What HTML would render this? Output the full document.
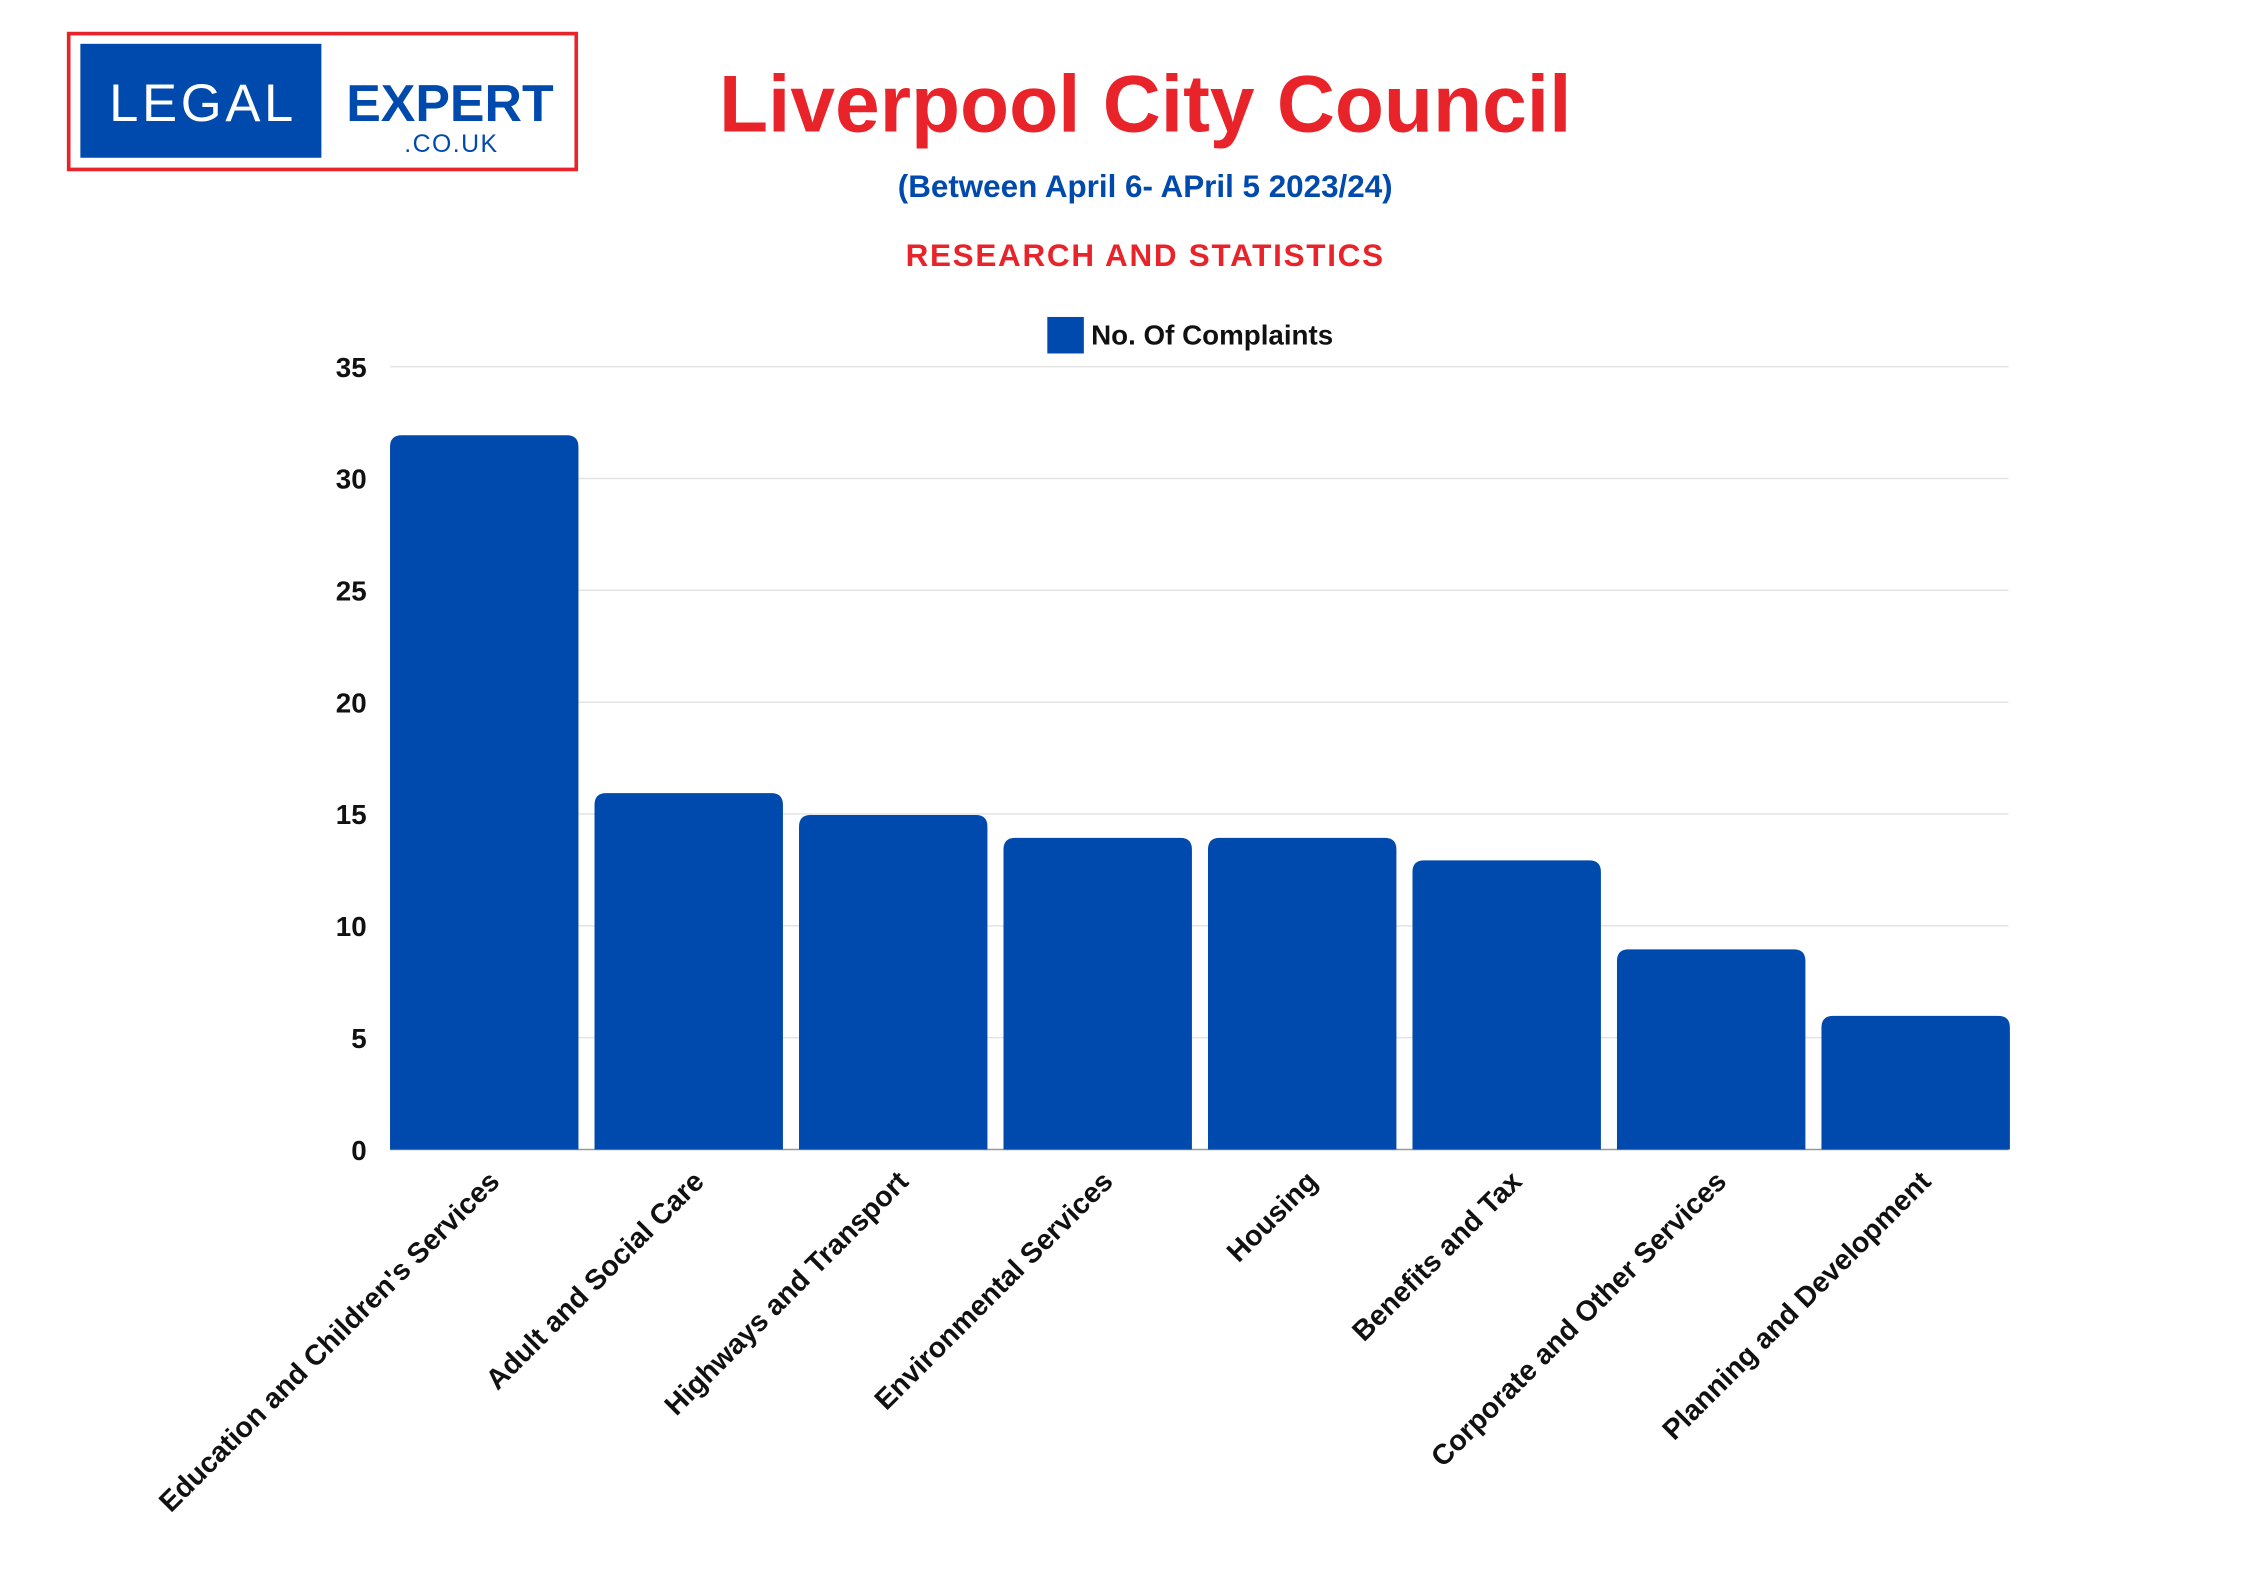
<!DOCTYPE html>
<html><head><meta charset="utf-8"><style>
html,body{margin:0;padding:0;background:#fff;}
svg{display:block;}
</style></head><body>
<svg width="2267" height="1587" viewBox="0 0 1552 1086.5" xmlns="http://www.w3.org/2000/svg" font-family="Liberation Sans, sans-serif">
<rect width="1552" height="1086.5" fill="#fff"/>
<!-- logo -->
<rect x="47" y="23" width="347.5" height="93" fill="#fff" stroke="#e8232a" stroke-width="2.5"/>
<rect x="55" y="30" width="165" height="78" fill="#004aad"/>
<text x="139" y="83" fill="#fff" font-size="36" text-anchor="middle" letter-spacing="2.5">LEGAL</text>
<text x="308" y="83" fill="#004aad" font-size="35.5" font-weight="bold" text-anchor="middle">EXPERT</text>
<text x="309" y="104" fill="#004aad" font-size="17" text-anchor="middle" letter-spacing="1">.CO.UK</text>
<!-- titles -->
<text x="784" y="90" fill="#e8232a" font-size="55" font-weight="bold" text-anchor="middle">Liverpool City Council</text>
<text x="784" y="135" fill="#004aad" font-size="21.5" font-weight="bold" text-anchor="middle">(Between April 6- APril 5 2023/24)</text>
<text x="784" y="182" fill="#e8232a" font-size="21.5" font-weight="bold" text-anchor="middle" letter-spacing="1.2">RESEARCH AND STATISTICS</text>
<!-- legend -->
<rect x="717" y="217" width="25" height="25" fill="#004aad"/>
<text x="747" y="236" fill="#111" font-size="19" font-weight="bold">No. Of Complaints</text>
<!-- grid -->
<g stroke="#e3e3e3" stroke-width="1">
<line x1="267" x2="1375" y1="251" y2="251"/>
<line x1="267" x2="1375" y1="327.6" y2="327.6"/>
<line x1="267" x2="1375" y1="404.1" y2="404.1"/>
<line x1="267" x2="1375" y1="480.7" y2="480.7"/>
<line x1="267" x2="1375" y1="557.3" y2="557.3"/>
<line x1="267" x2="1375" y1="633.9" y2="633.9"/>
<line x1="267" x2="1375" y1="710.4" y2="710.4"/>
</g>
<line x1="267" x2="1375" y1="787" y2="787" stroke="#999" stroke-width="1"/>
<g fill="#111" font-size="19" font-weight="bold" text-anchor="end">
<text x="251" y="258">35</text>
<text x="251" y="334.6">30</text>
<text x="251" y="411.1">25</text>
<text x="251" y="487.7">20</text>
<text x="251" y="564.3">15</text>
<text x="251" y="640.9">10</text>
<text x="251" y="717.4">5</text>
<text x="251" y="794">0</text>
</g>
<g fill="#004aad">
<path d="M267 787 V306 q0 -8 8 -8 H388 q8 0 8 8 V787Z"/>
<path d="M407 787 V551 q0 -8 8 -8 H528 q8 0 8 8 V787Z"/>
<path d="M547 787 V566 q0 -8 8 -8 H668 q8 0 8 8 V787Z"/>
<path d="M687 787 V581.6 q0 -8 8 -8 H808 q8 0 8 8 V787Z"/>
<path d="M827 787 V581.6 q0 -8 8 -8 H948 q8 0 8 8 V787Z"/>
<path d="M967 787 V597 q0 -8 8 -8 H1088 q8 0 8 8 V787Z"/>
<path d="M1107 787 V658 q0 -8 8 -8 H1228 q8 0 8 8 V787Z"/>
<path d="M1247 787 V703.5 q0 -8 8 -8 H1368 q8 0 8 8 V787Z"/>
</g>
<g fill="#111" font-size="19.5" font-weight="bold" text-anchor="end">
<text transform="translate(343,810) rotate(-45)">Education and Children's Services</text>
<text transform="translate(483,810) rotate(-45)">Adult and Social Care</text>
<text transform="translate(623,810) rotate(-45)">Highways and Transport</text>
<text transform="translate(763,810) rotate(-45)">Environmental Services</text>
<text transform="translate(903,810) rotate(-45)">Housing</text>
<text transform="translate(1043,810) rotate(-45)">Benefits and Tax</text>
<text transform="translate(1183,810) rotate(-45)">Corporate and Other Services</text>
<text transform="translate(1323,810) rotate(-45)">Planning and Development</text>
</g>
</svg>
</body></html>
